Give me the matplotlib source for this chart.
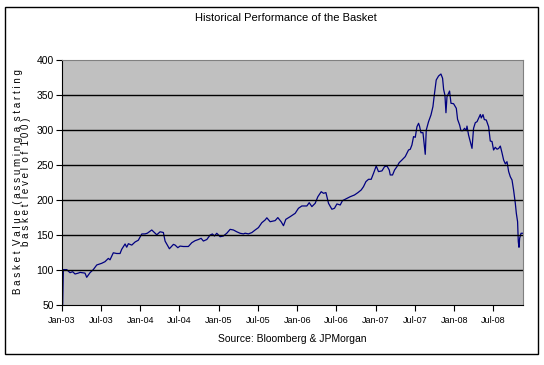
import numpy as np
import pandas as pd
import matplotlib
matplotlib.use('Agg')
import matplotlib.pyplot as plt
import matplotlib.dates as mdates
from matplotlib.patches import Rectangle

plt.rcParams['font.family'] = ['Liberation Sans Narrow', 'Liberation Sans', 'DejaVu Sans']

# time in years after 1 Jan 2003, basket level
years = [0.000, 0.017, 0.060, 0.102, 0.136, 0.166, 0.208, 0.230, 0.293, 0.315,
         0.357, 0.399, 0.443, 0.506, 0.548, 0.591, 0.612, 0.654, 0.698, 0.740,
         0.761, 0.804, 0.825, 0.846, 0.889, 0.931, 0.973, 1.017, 1.059, 1.088,
         1.144, 1.186, 1.208, 1.250, 1.292, 1.314, 1.369, 1.420,
         1.441, 1.476, 1.505, 1.547, 1.611, 1.654, 1.696, 1.739, 1.773, 1.802,
         1.846, 1.888, 1.917, 1.943, 1.973, 2.015, 2.057, 2.101, 2.143, 2.185,
         2.228, 2.270, 2.313, 2.334, 2.376, 2.420, 2.462, 2.504, 2.547, 2.589,
         2.611, 2.653, 2.717, 2.751, 2.793, 2.823, 2.853, 2.908,
         2.972, 3.014, 3.057, 3.121, 3.151, 3.185, 3.227, 3.261, 3.304, 3.333,
         3.364, 3.397, 3.440, 3.473, 3.504, 3.546, 3.575, 3.631, 3.673, 3.728,
         3.772, 3.814, 3.843, 3.874, 3.907, 3.941, 3.971, 4.005, 4.034, 4.078,
         4.111, 4.142, 4.171, 4.184, 4.213, 4.239, 4.269, 4.298, 4.333, 4.375,
         4.417,
         4.439, 4.460, 4.481, 4.503, 4.524, 4.545, 4.557, 4.575, 4.601, 4.617,
         4.630, 4.643, 4.672, 4.703, 4.728, 4.745, 4.770, 4.800, 4.830, 4.851,
         4.864, 4.881, 4.894, 4.907, 4.927, 4.940, 4.958, 4.991, 5.026, 5.042,
         5.068, 5.085, 5.111, 5.131, 5.153, 5.162, 5.182, 5.204, 5.226, 5.246,
         5.268, 5.290, 5.310, 5.332, 5.344, 5.366, 5.383, 5.408, 5.438, 5.459,
         5.481, 5.501, 5.523, 5.545, 5.565, 5.587, 5.608, 5.629, 5.651, 5.672,
         5.693, 5.714, 5.736, 5.756, 5.778, 5.791, 5.807, 5.816, 5.825, 5.833,
         5.851, 5.876]
basket = [0.0, 101.0, 101.0, 96.6, 98.0, 94.7, 96.0, 97.0, 96.0, 90.0,
          96.6, 101.0, 107.6, 110.0, 112.3, 117.0, 115.0, 125.0, 124.0, 124.0,
          130.0, 137.6, 133.0, 138.0, 136.0, 140.4, 143.0, 151.9, 152.0, 153.0,
          157.6, 153.0, 150.7, 155.0, 154.0, 141.7, 130.8, 137.0,
          136.1, 132.3, 134.6, 134.0, 134.0, 139.4, 142.3, 144.0, 145.7, 141.8,
          144.0, 150.4, 151.9, 149.0, 152.9, 148.0, 149.0, 153.0, 158.5, 157.6,
          155.0, 152.9, 152.0, 153.0, 152.0, 153.9, 157.6, 161.0, 168.0, 171.9,
          175.0, 169.4, 171.0, 175.3, 169.4, 163.7, 172.8, 176.6,
          181.4, 188.6, 191.9, 191.9, 196.6, 191.0, 195.7, 205.1, 212.3, 210.0,
          211.0, 195.7, 187.2, 188.6, 194.8, 193.3, 199.5, 202.8, 205.1, 207.6,
          211.0, 214.8, 219.5, 226.7, 230.0, 230.0, 238.6, 249.0, 241.0, 242.0,
          248.0, 249.0, 243.3, 236.2, 236.2, 243.3, 248.0, 253.8, 257.6, 262.4,
          271.9,
          272.9, 279.0, 291.0, 290.0, 305.1, 310.0, 306.0, 296.6, 296.6, 279.0,
          265.7, 300.4, 312.3, 321.9, 333.8, 350.0, 371.9, 377.6, 380.4, 374.3,
          358.6, 350.0, 325.1, 347.9, 352.9, 356.1, 338.6, 338.0, 331.4, 315.7,
          307.6, 299.5, 299.5, 302.9, 299.5, 306.0, 293.3, 283.7, 274.2, 302.9,
          310.9, 312.3, 317.1, 322.6, 317.6, 322.4, 315.3, 314.7, 305.0, 284.7,
          284.0, 271.9, 275.7, 273.0, 274.0, 277.5, 268.0, 257.6, 252.0, 255.2,
          241.1, 233.7, 229.0, 214.7, 195.7, 181.4, 169.4, 140.9, 132.9, 145.7,
          152.9, 152.9]

tick_dates = pd.date_range('2003-01-01', '2008-07-01', freq='6MS')
y_ticks = [50, 100, 150, 200, 250, 300, 350, 400]

start = pd.Timestamp('2003-01-01')
dates = start + pd.to_timedelta(np.array(years) * 365.25, unit='D')

fig = plt.figure(figsize=(5.44, 3.65), dpi=100)
fig.patches.append(Rectangle((5/544, 1 - 354/365), 533/544, 347/365,
                             transform=fig.transFigure, fill=False,
                             edgecolor='black', linewidth=1.0))

ax = fig.add_axes([62/544, 1 - 305.3/365, 461/544, 245/365])
ax.set_facecolor('#C0C0C0')
ax.plot(dates, basket, color='#000080', linewidth=0.9)

ax.set_xlim(start, dates[-1])
ax.set_ylim(50, 400)
ax.set_yticks(y_ticks)
for v in y_ticks[1:-1]:
    ax.axhline(v, color='black', linewidth=1.0)

ax.set_xticks(tick_dates)
ax.xaxis.set_major_formatter(mdates.DateFormatter('%b-%y'))
ax.tick_params(axis='both', direction='out', length=4, width=0.8,
               labelsize=7.5, pad=2, colors='black')
ax.tick_params(axis='x', labelsize=6.5, pad=4)

for side in ['top', 'right']:
    ax.spines[side].set_color('#808080')
for side in ['left', 'bottom']:
    ax.spines[side].set_color('black')

fig.text(286/544, 1 - 18/365, 'Historical Performance of the Basket',
         ha='center', va='center', fontsize=8)
fig.text(292/544, 1 - 339/365, 'Source: Bloomberg & JPMorgan',
         ha='center', va='center', fontsize=7.5)
fig.text(22/544, 1 - 182/365,
         'B a s k e t  V a l u e  ( a s s u m i n g  a  s t a r t i n g\nb a s k e t  l e v e l  o f  1 0 0 )',
         ha='center', va='center', rotation=90, fontsize=7, linespacing=0.85)

fig.savefig('out.png', dpi=100)
plt.close(fig)
